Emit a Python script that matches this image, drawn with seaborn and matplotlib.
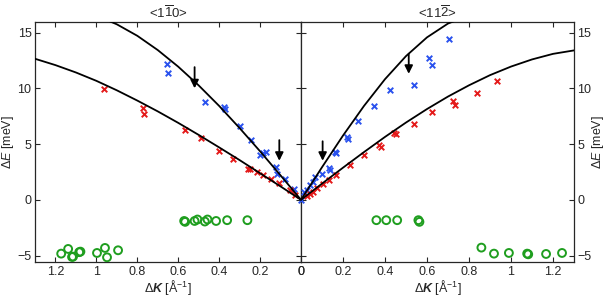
#!/usr/bin/env python3

import pandas as pd
import matplotlib
matplotlib.use('Agg')
import matplotlib.pyplot as plt
import seaborn as sns

# <1-10> direction (left panel), K in 1/A, E in meV
k_blue_l = [0.655, 0.652, 0.47, 0.375, 0.372, 0.298, 0.244, 0.20, 0.187, 0.172, 0.122, 0.115, 0.078, 0.032, 0.0]
e_blue_l = [12.2, 11.4, 8.8, 8.35, 8.1, 6.6, 5.4, 4.05, 4.2, 4.25, 2.95, 2.35, 1.9, 1.0, 0.0]
k_red_l = [0.964, 0.774, 0.766, 0.566, 0.489, 0.403, 0.33, 0.257, 0.249, 0.216, 0.184, 0.148, 0.107, 0.054, 0.029]
e_red_l = [9.9, 8.26, 7.66, 6.25, 5.5, 4.4, 3.7, 2.8, 2.72, 2.5, 2.2, 1.85, 1.52, 0.86, 0.41]
k_green_l = [0.571, 0.566, 0.52, 0.506, 0.47, 0.457, 0.415, 0.361, 0.262,
             1.172, 1.138, 1.119, 1.114, 1.084, 1.078, 0.997, 0.958, 0.948, 0.894]
e_green_l = [-1.9, -1.98, -1.9, -1.77, -1.95, -1.77, -1.9, -1.83, -1.83,
             -4.83, -4.41, -5.13, -5.1, -4.7, -4.65, -4.77, -4.32, -5.16, -4.53]

# model curves
k_up_l = [0.0, 0.1, 0.2, 0.3, 0.4, 0.5, 0.6, 0.7, 0.8, 0.9, 1.0]
e_up_l = [0.0, 2.19, 4.35, 6.43, 8.42, 10.26, 11.94, 13.43, 14.71, 15.74, 16.52]
k_lo_l = [0.0, 0.1, 0.2, 0.3, 0.4, 0.5, 0.6, 0.7, 0.8, 0.9, 1.0, 1.1, 1.2, 1.3]
e_lo_l = [0.0, 1.20, 2.38, 3.56, 4.70, 5.82, 6.90, 7.93, 8.90, 9.82, 10.67, 11.42, 12.08, 12.65]

# <11-2> direction (right panel)
k_blue_r = [0.703, 0.608, 0.624, 0.54, 0.425, 0.346, 0.272, 0.217, 0.222, 0.161, 0.166, 0.133, 0.137,
            0.10, 0.066, 0.058, 0.043, 0.027, 0.016, 0.0]
e_blue_r = [14.45, 12.75, 12.1, 10.3, 9.82, 8.41, 7.06, 5.65, 5.42, 4.3, 4.16, 2.81, 2.66,
            2.3, 2.06, 1.6, 1.31, 0.86, 0.71, 0.0]
k_red_r = [0.935, 0.836, 0.725, 0.733, 0.624, 0.537, 0.445, 0.45, 0.37, 0.379, 0.299, 0.232, 0.167,
           0.133, 0.106, 0.074, 0.058, 0.043, 0.027]
e_red_r = [10.7, 9.55, 8.86, 8.5, 7.9, 6.8, 6.0, 5.87, 4.9, 4.75, 4.0, 3.1, 2.25,
           1.8, 1.46, 1.02, 0.71, 0.56, 0.32]
k_green_r = [0.359, 0.406, 0.458, 0.559, 0.564, 0.859, 0.919, 0.99, 1.077, 1.082, 1.167, 1.243]
e_green_r = [-1.83, -1.83, -1.83, -1.83, -1.98, -4.29, -4.83, -4.77, -4.83, -4.89, -4.86, -4.77]

k_up_r = [0.0, 0.1, 0.2, 0.3, 0.4, 0.5, 0.6, 0.7, 0.8]
e_up_r = [0.0, 2.92, 5.76, 8.42, 10.82, 12.89, 14.57, 15.81, 16.55]
k_lo_r = [0.0, 0.1, 0.2, 0.3, 0.4, 0.5, 0.6, 0.7, 0.8, 0.9, 1.0, 1.1, 1.2, 1.3]
e_lo_r = [0.0, 1.45, 2.88, 4.28, 5.64, 6.93, 8.14, 9.26, 10.27, 11.18, 11.95, 12.59, 13.09, 13.4]

# arrows: K position, start E, tip E
arrows_l = [(0.52, 11.9, 10.0), (0.106, 5.35, 3.5)]
arrows_r = [(0.513, 13.1, 11.3), (0.103, 5.25, 3.5)]

ticks_k = [0, 0.2, 0.4, 0.6, 0.8, 1, 1.2]
ticks_e = [-5, 0, 5, 10, 15]

blue = '#2a52ee'
red = '#e41a1a'
green = '#1f9e1f'
fs = 9

sns.set_style('ticks')
plt.rcParams['font.family'] = ['Liberation Sans', 'DejaVu Sans']
plt.rcParams['mathtext.fontset'] = 'custom'
plt.rcParams['mathtext.rm'] = 'Liberation Sans'
plt.rcParams['mathtext.it'] = 'Liberation Sans:italic'
plt.rcParams['mathtext.bf'] = 'Liberation Sans:bold'
plt.rcParams['mathtext.bfit'] = 'Liberation Sans:italic:bold'
plt.rcParams['font.size'] = fs


def draw_panel(ax, kb, eb, kr, er, kg, eg, ku, eu, kl, el, arrows):
	sns.scatterplot(x=kb, y=eb, ax=ax, marker='x', color=blue, s=16, linewidth=1.4, zorder=3)
	sns.scatterplot(x=kr, y=er, ax=ax, marker='x', color=red, s=16, linewidth=1.4, zorder=3)
	sns.scatterplot(x=kg, y=eg, ax=ax, marker='o', s=32, color=green, facecolors='none',
	                edgecolor=green, linewidth=1.4, zorder=3)
	sns.lineplot(x=ku, y=eu, ax=ax, color='k', lw=1.3, sort=False, estimator=None, zorder=4)
	sns.lineplot(x=kl, y=el, ax=ax, color='k', lw=1.3, sort=False, estimator=None, zorder=4)
	for k, e0, e1 in arrows:
		ax.annotate('', xy=(k, e1), xytext=(k, e0),
		            arrowprops=dict(arrowstyle='-|>', color='k', lw=1.3, mutation_scale=12,
		                            shrinkA=0, shrinkB=0), zorder=5)
	ax.set_ylim(-5.55, 15.95)
	ax.set_yticks(ticks_e)
	ax.set_xticks(ticks_k)
	ax.set_xticklabels([('%g' % t) for t in ticks_k])
	ax.tick_params(direction='in', top=True, right=True, left=True, length=3.5, width=0.8,
	               labelsize=fs)
	ax.tick_params(axis='x', pad=3)
	ax.tick_params(axis='y', pad=2.5)
	for s in ax.spines.values():
		s.set_linewidth(0.9)
	ax.set_xlabel(r'$\Delta\mathbfit{K}$ [Å$^{-1}$]', fontsize=fs, labelpad=0)


fig = plt.figure(figsize=(6.07, 2.97), dpi=100)
ax1 = fig.add_axes([35 / 607, 0.119, 266 / 607, 0.807])
ax2 = fig.add_axes([301 / 607, 0.119, 273 / 607, 0.807])

draw_panel(ax1, k_blue_l, e_blue_l, k_red_l, e_red_l, k_green_l, e_green_l,
           k_up_l, e_up_l, k_lo_l, e_lo_l, arrows_l)
draw_panel(ax2, k_blue_r, e_blue_r, k_red_r, e_red_r, k_green_r, e_green_r,
           k_up_r, e_up_r, k_lo_r, e_lo_r, arrows_r)

ax1.set_xlim(1.3, 0)
ax2.set_xlim(0, 1.3)

ax1.set_ylabel(r'$\Delta E$ [meV]', fontsize=fs)
ax1.yaxis.set_label_coords(-0.07, 0.5)
ax2.tick_params(labelleft=False, labelright=True)
ax2.yaxis.set_label_position('right')
ax2.set_ylabel(r'$\Delta E$ [meV]', fontsize=fs)
ax2.yaxis.set_label_coords(1.06, 0.5)

ax1.set_title(r'<1$\overline{1}$0>', fontsize=9.5, pad=3)
ax2.set_title(r'<11$\overline{2}$>', fontsize=9.5, pad=3)

fig.savefig('out.png', dpi=100)
